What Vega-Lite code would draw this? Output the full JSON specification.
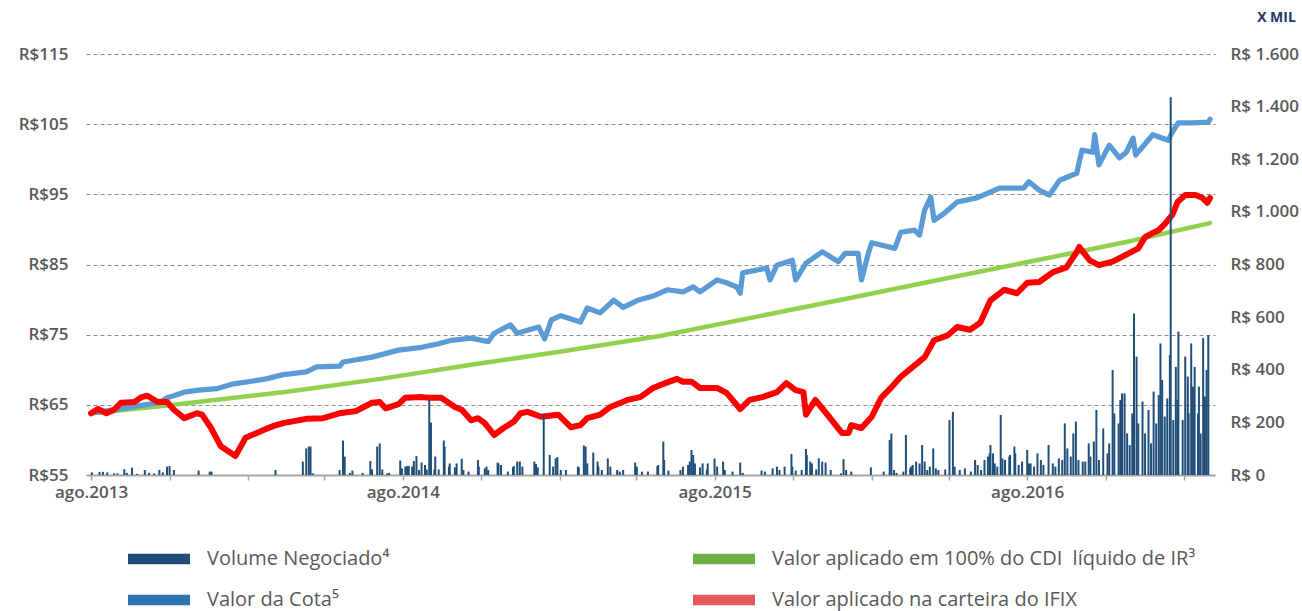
{
  "$schema": "https://vega.github.io/schema/vega-lite/v6.json",
  "width": 1129,
  "height": 421,
  "autosize": {"type": "none"},
  "padding": {"left": 86, "top": 54, "right": 87, "bottom": 136},
  "background": "white",
  "config": {"view": {"stroke": null}, "font": "Open Sans"},
  "datasets": {
    "linhas": [
      {"data": "2013-08-01", "serie": "cdi", "valor": 63.8},
      {"data": "2013-10-29", "serie": "cdi", "valor": 64.9},
      {"data": "2014-03-14", "serie": "cdi", "valor": 66.8},
      {"data": "2014-07-06", "serie": "cdi", "valor": 68.7},
      {"data": "2014-10-20", "serie": "cdi", "valor": 70.7},
      {"data": "2015-02-08", "serie": "cdi", "valor": 72.7},
      {"data": "2015-05-29", "serie": "cdi", "valor": 74.8},
      {"data": "2015-09-17", "serie": "cdi", "valor": 77.5},
      {"data": "2016-01-05", "serie": "cdi", "valor": 80.2},
      {"data": "2016-04-23", "serie": "cdi", "valor": 82.9},
      {"data": "2016-08-12", "serie": "cdi", "valor": 85.6},
      {"data": "2016-11-25", "serie": "cdi", "valor": 88.2},
      {"data": "2017-03-03", "serie": "cdi", "valor": 90.9},

      {"data": "2013-08-01", "serie": "cota", "valor": 63.8},
      {"data": "2013-08-17", "serie": "cota", "valor": 64.1},
      {"data": "2013-09-09", "serie": "cota", "valor": 64.5},
      {"data": "2013-10-03", "serie": "cota", "valor": 65.0},
      {"data": "2013-10-20", "serie": "cota", "valor": 65.3},
      {"data": "2013-10-29", "serie": "cota", "valor": 66.0},
      {"data": "2013-11-06", "serie": "cota", "valor": 66.3},
      {"data": "2013-11-18", "serie": "cota", "valor": 66.8},
      {"data": "2013-12-05", "serie": "cota", "valor": 67.1},
      {"data": "2013-12-26", "serie": "cota", "valor": 67.3},
      {"data": "2014-01-15", "serie": "cota", "valor": 68.0},
      {"data": "2014-02-07", "serie": "cota", "valor": 68.4},
      {"data": "2014-02-22", "serie": "cota", "valor": 68.7},
      {"data": "2014-03-14", "serie": "cota", "valor": 69.3},
      {"data": "2014-03-22", "serie": "cota", "valor": 69.4},
      {"data": "2014-04-10", "serie": "cota", "valor": 69.7},
      {"data": "2014-04-22", "serie": "cota", "valor": 70.4},
      {"data": "2014-05-19", "serie": "cota", "valor": 70.5},
      {"data": "2014-05-23", "serie": "cota", "valor": 71.1},
      {"data": "2014-06-26", "serie": "cota", "valor": 71.8},
      {"data": "2014-07-27", "serie": "cota", "valor": 72.8},
      {"data": "2014-08-23", "serie": "cota", "valor": 73.2},
      {"data": "2014-09-12", "serie": "cota", "valor": 73.7},
      {"data": "2014-09-27", "serie": "cota", "valor": 74.2},
      {"data": "2014-10-20", "serie": "cota", "valor": 74.5},
      {"data": "2014-11-09", "serie": "cota", "valor": 74.0},
      {"data": "2014-11-16", "serie": "cota", "valor": 75.2},
      {"data": "2014-12-05", "serie": "cota", "valor": 76.4},
      {"data": "2014-12-13", "serie": "cota", "valor": 75.2},
      {"data": "2015-01-07", "serie": "cota", "valor": 76.1},
      {"data": "2015-01-14", "serie": "cota", "valor": 74.4},
      {"data": "2015-01-22", "serie": "cota", "valor": 77.1},
      {"data": "2015-02-02", "serie": "cota", "valor": 77.7},
      {"data": "2015-02-25", "serie": "cota", "valor": 76.8},
      {"data": "2015-03-05", "serie": "cota", "valor": 78.8},
      {"data": "2015-03-20", "serie": "cota", "valor": 78.1},
      {"data": "2015-04-05", "serie": "cota", "valor": 79.9},
      {"data": "2015-04-16", "serie": "cota", "valor": 78.9},
      {"data": "2015-05-03", "serie": "cota", "valor": 79.9},
      {"data": "2015-05-21", "serie": "cota", "valor": 80.5},
      {"data": "2015-06-07", "serie": "cota", "valor": 81.4},
      {"data": "2015-06-25", "serie": "cota", "valor": 81.1},
      {"data": "2015-07-07", "serie": "cota", "valor": 81.8},
      {"data": "2015-07-15", "serie": "cota", "valor": 81.1},
      {"data": "2015-08-04", "serie": "cota", "valor": 82.8},
      {"data": "2015-08-15", "serie": "cota", "valor": 82.4},
      {"data": "2015-08-27", "serie": "cota", "valor": 81.8},
      {"data": "2015-08-31", "serie": "cota", "valor": 80.9},
      {"data": "2015-09-03", "serie": "cota", "valor": 83.8},
      {"data": "2015-10-01", "serie": "cota", "valor": 84.5},
      {"data": "2015-10-05", "serie": "cota", "valor": 82.8},
      {"data": "2015-10-13", "serie": "cota", "valor": 84.9},
      {"data": "2015-10-31", "serie": "cota", "valor": 85.6},
      {"data": "2015-11-04", "serie": "cota", "valor": 82.8},
      {"data": "2015-11-16", "serie": "cota", "valor": 85.2},
      {"data": "2015-12-05", "serie": "cota", "valor": 86.8},
      {"data": "2015-12-24", "serie": "cota", "valor": 85.4},
      {"data": "2016-01-01", "serie": "cota", "valor": 86.6},
      {"data": "2016-01-16", "serie": "cota", "valor": 86.6},
      {"data": "2016-01-20", "serie": "cota", "valor": 82.8},
      {"data": "2016-01-28", "serie": "cota", "valor": 86.6},
      {"data": "2016-02-01", "serie": "cota", "valor": 88.1},
      {"data": "2016-02-28", "serie": "cota", "valor": 87.3},
      {"data": "2016-03-06", "serie": "cota", "valor": 89.6},
      {"data": "2016-03-22", "serie": "cota", "valor": 89.9},
      {"data": "2016-03-28", "serie": "cota", "valor": 89.2},
      {"data": "2016-04-03", "serie": "cota", "valor": 92.8},
      {"data": "2016-04-10", "serie": "cota", "valor": 94.6},
      {"data": "2016-04-14", "serie": "cota", "valor": 91.3},
      {"data": "2016-04-26", "serie": "cota", "valor": 92.3},
      {"data": "2016-05-11", "serie": "cota", "valor": 93.9},
      {"data": "2016-06-03", "serie": "cota", "valor": 94.5},
      {"data": "2016-06-30", "serie": "cota", "valor": 95.9},
      {"data": "2016-07-28", "serie": "cota", "valor": 95.9},
      {"data": "2016-08-03", "serie": "cota", "valor": 96.8},
      {"data": "2016-08-15", "serie": "cota", "valor": 95.6},
      {"data": "2016-08-27", "serie": "cota", "valor": 94.9},
      {"data": "2016-09-08", "serie": "cota", "valor": 97.0},
      {"data": "2016-09-28", "serie": "cota", "valor": 98.0},
      {"data": "2016-10-04", "serie": "cota", "valor": 101.3},
      {"data": "2016-10-17", "serie": "cota", "valor": 101.0},
      {"data": "2016-10-19", "serie": "cota", "valor": 103.5},
      {"data": "2016-10-24", "serie": "cota", "valor": 99.2},
      {"data": "2016-11-05", "serie": "cota", "valor": 102.0},
      {"data": "2016-11-17", "serie": "cota", "valor": 100.2},
      {"data": "2016-11-25", "serie": "cota", "valor": 101.0},
      {"data": "2016-12-03", "serie": "cota", "valor": 103.0},
      {"data": "2016-12-06", "serie": "cota", "valor": 100.6},
      {"data": "2016-12-26", "serie": "cota", "valor": 103.5},
      {"data": "2017-01-13", "serie": "cota", "valor": 102.7},
      {"data": "2017-01-18", "serie": "cota", "valor": 103.9},
      {"data": "2017-01-25", "serie": "cota", "valor": 105.2},
      {"data": "2017-02-10", "serie": "cota", "valor": 105.2},
      {"data": "2017-03-01", "serie": "cota", "valor": 105.3},
      {"data": "2017-03-03", "serie": "cota", "valor": 105.7},

      {"data": "2013-08-01", "serie": "ifix", "valor": 63.8},
      {"data": "2013-08-09", "serie": "ifix", "valor": 64.4},
      {"data": "2013-08-19", "serie": "ifix", "valor": 63.8},
      {"data": "2013-08-28", "serie": "ifix", "valor": 64.3},
      {"data": "2013-09-05", "serie": "ifix", "valor": 65.3},
      {"data": "2013-09-21", "serie": "ifix", "valor": 65.4},
      {"data": "2013-09-29", "serie": "ifix", "valor": 66.1},
      {"data": "2013-10-06", "serie": "ifix", "valor": 66.3},
      {"data": "2013-10-18", "serie": "ifix", "valor": 65.4},
      {"data": "2013-10-29", "serie": "ifix", "valor": 65.4},
      {"data": "2013-11-06", "serie": "ifix", "valor": 64.3},
      {"data": "2013-11-18", "serie": "ifix", "valor": 63.1},
      {"data": "2013-12-03", "serie": "ifix", "valor": 63.8},
      {"data": "2013-12-09", "serie": "ifix", "valor": 63.6},
      {"data": "2013-12-19", "serie": "ifix", "valor": 61.8},
      {"data": "2013-12-31", "serie": "ifix", "valor": 59.1},
      {"data": "2014-01-17", "serie": "ifix", "valor": 57.7},
      {"data": "2014-01-29", "serie": "ifix", "valor": 60.3},
      {"data": "2014-02-19", "serie": "ifix", "valor": 61.4},
      {"data": "2014-03-03", "serie": "ifix", "valor": 62.0},
      {"data": "2014-03-14", "serie": "ifix", "valor": 62.4},
      {"data": "2014-04-10", "serie": "ifix", "valor": 63.0},
      {"data": "2014-04-30", "serie": "ifix", "valor": 63.1},
      {"data": "2014-05-19", "serie": "ifix", "valor": 63.8},
      {"data": "2014-06-07", "serie": "ifix", "valor": 64.1},
      {"data": "2014-06-26", "serie": "ifix", "valor": 65.3},
      {"data": "2014-07-05", "serie": "ifix", "valor": 65.4},
      {"data": "2014-07-12", "serie": "ifix", "valor": 64.5},
      {"data": "2014-07-27", "serie": "ifix", "valor": 65.1},
      {"data": "2014-08-04", "serie": "ifix", "valor": 66.0},
      {"data": "2014-08-23", "serie": "ifix", "valor": 66.1},
      {"data": "2014-09-01", "serie": "ifix", "valor": 66.0},
      {"data": "2014-09-15", "serie": "ifix", "valor": 66.0},
      {"data": "2014-10-01", "serie": "ifix", "valor": 64.7},
      {"data": "2014-10-09", "serie": "ifix", "valor": 64.3},
      {"data": "2014-10-20", "serie": "ifix", "valor": 62.8},
      {"data": "2014-10-28", "serie": "ifix", "valor": 63.1},
      {"data": "2014-11-05", "serie": "ifix", "valor": 62.4},
      {"data": "2014-11-16", "serie": "ifix", "valor": 60.7},
      {"data": "2014-11-27", "serie": "ifix", "valor": 61.7},
      {"data": "2014-12-09", "serie": "ifix", "valor": 62.6},
      {"data": "2014-12-17", "serie": "ifix", "valor": 63.8},
      {"data": "2014-12-25", "serie": "ifix", "valor": 64.0},
      {"data": "2015-01-10", "serie": "ifix", "valor": 63.3},
      {"data": "2015-01-30", "serie": "ifix", "valor": 63.6},
      {"data": "2015-02-14", "serie": "ifix", "valor": 61.8},
      {"data": "2015-02-25", "serie": "ifix", "valor": 62.1},
      {"data": "2015-03-05", "serie": "ifix", "valor": 63.1},
      {"data": "2015-03-20", "serie": "ifix", "valor": 63.6},
      {"data": "2015-04-01", "serie": "ifix", "valor": 64.7},
      {"data": "2015-04-21", "serie": "ifix", "valor": 65.7},
      {"data": "2015-05-06", "serie": "ifix", "valor": 66.1},
      {"data": "2015-05-21", "serie": "ifix", "valor": 67.4},
      {"data": "2015-05-29", "serie": "ifix", "valor": 67.8},
      {"data": "2015-06-18", "serie": "ifix", "valor": 68.7},
      {"data": "2015-06-25", "serie": "ifix", "valor": 68.3},
      {"data": "2015-07-05", "serie": "ifix", "valor": 68.3},
      {"data": "2015-07-15", "serie": "ifix", "valor": 67.4},
      {"data": "2015-08-04", "serie": "ifix", "valor": 67.4},
      {"data": "2015-08-15", "serie": "ifix", "valor": 66.7},
      {"data": "2015-08-31", "serie": "ifix", "valor": 64.4},
      {"data": "2015-09-11", "serie": "ifix", "valor": 65.7},
      {"data": "2015-09-26", "serie": "ifix", "valor": 66.1},
      {"data": "2015-10-13", "serie": "ifix", "valor": 66.8},
      {"data": "2015-10-24", "serie": "ifix", "valor": 68.1},
      {"data": "2015-11-04", "serie": "ifix", "valor": 67.1},
      {"data": "2015-11-13", "serie": "ifix", "valor": 66.8},
      {"data": "2015-11-16", "serie": "ifix", "valor": 63.6},
      {"data": "2015-11-27", "serie": "ifix", "valor": 65.7},
      {"data": "2015-12-13", "serie": "ifix", "valor": 63.3},
      {"data": "2015-12-28", "serie": "ifix", "valor": 61.0},
      {"data": "2016-01-05", "serie": "ifix", "valor": 61.0},
      {"data": "2016-01-08", "serie": "ifix", "valor": 62.1},
      {"data": "2016-01-20", "serie": "ifix", "valor": 61.7},
      {"data": "2016-02-01", "serie": "ifix", "valor": 63.3},
      {"data": "2016-02-12", "serie": "ifix", "valor": 66.0},
      {"data": "2016-02-24", "serie": "ifix", "valor": 67.5},
      {"data": "2016-03-06", "serie": "ifix", "valor": 69.0},
      {"data": "2016-03-18", "serie": "ifix", "valor": 70.2},
      {"data": "2016-04-03", "serie": "ifix", "valor": 71.8},
      {"data": "2016-04-14", "serie": "ifix", "valor": 74.2},
      {"data": "2016-04-30", "serie": "ifix", "valor": 74.9},
      {"data": "2016-05-11", "serie": "ifix", "valor": 76.1},
      {"data": "2016-05-26", "serie": "ifix", "valor": 75.7},
      {"data": "2016-06-07", "serie": "ifix", "valor": 76.7},
      {"data": "2016-06-19", "serie": "ifix", "valor": 79.9},
      {"data": "2016-07-05", "serie": "ifix", "valor": 81.4},
      {"data": "2016-07-20", "serie": "ifix", "valor": 80.9},
      {"data": "2016-08-01", "serie": "ifix", "valor": 82.4},
      {"data": "2016-08-15", "serie": "ifix", "valor": 82.5},
      {"data": "2016-08-31", "serie": "ifix", "valor": 83.9},
      {"data": "2016-09-16", "serie": "ifix", "valor": 84.6},
      {"data": "2016-09-28", "serie": "ifix", "valor": 86.8},
      {"data": "2016-10-01", "serie": "ifix", "valor": 87.5},
      {"data": "2016-10-13", "serie": "ifix", "valor": 85.6},
      {"data": "2016-10-24", "serie": "ifix", "valor": 84.9},
      {"data": "2016-11-09", "serie": "ifix", "valor": 85.4},
      {"data": "2016-11-25", "serie": "ifix", "valor": 86.4},
      {"data": "2016-12-09", "serie": "ifix", "valor": 87.3},
      {"data": "2016-12-17", "serie": "ifix", "valor": 88.9},
      {"data": "2016-12-26", "serie": "ifix", "valor": 89.5},
      {"data": "2017-01-02", "serie": "ifix", "valor": 89.9},
      {"data": "2017-01-10", "serie": "ifix", "valor": 90.9},
      {"data": "2017-01-18", "serie": "ifix", "valor": 92.1},
      {"data": "2017-01-24", "serie": "ifix", "valor": 93.9},
      {"data": "2017-02-02", "serie": "ifix", "valor": 94.9},
      {"data": "2017-02-14", "serie": "ifix", "valor": 94.9},
      {"data": "2017-02-22", "serie": "ifix", "valor": 94.5},
      {"data": "2017-02-28", "serie": "ifix", "valor": 93.8},
      {"data": "2017-03-03", "serie": "ifix", "valor": 94.5}
    ],
    "volume": [
      {"data": "2013-08-02", "volume": 10}, {"data": "2013-08-11", "volume": 12}, {"data": "2013-08-15", "volume": 12},
      {"data": "2013-08-20", "volume": 10}, {"data": "2013-08-28", "volume": 6}, {"data": "2013-09-01", "volume": 6},
      {"data": "2013-09-09", "volume": 22}, {"data": "2013-09-12", "volume": 8}, {"data": "2013-09-18", "volume": 28},
      {"data": "2013-09-24", "volume": 4}, {"data": "2013-10-03", "volume": 19}, {"data": "2013-10-08", "volume": 8},
      {"data": "2013-10-14", "volume": 6}, {"data": "2013-10-20", "volume": 19}, {"data": "2013-10-24", "volume": 10},
      {"data": "2013-10-29", "volume": 32}, {"data": "2013-11-01", "volume": 34}, {"data": "2013-11-06", "volume": 19},
      {"data": "2013-12-05", "volume": 17}, {"data": "2013-12-18", "volume": 13}, {"data": "2013-12-20", "volume": 13},
      {"data": "2014-03-05", "volume": 19},
      {"data": "2014-04-06", "volume": 51}, {"data": "2014-04-10", "volume": 101}, {"data": "2014-04-13", "volume": 108},
      {"data": "2014-04-15", "volume": 108}, {"data": "2014-04-18", "volume": 6}, {"data": "2014-05-19", "volume": 19},
      {"data": "2014-05-23", "volume": 131}, {"data": "2014-05-25", "volume": 70}, {"data": "2014-05-31", "volume": 8},
      {"data": "2014-06-03", "volume": 17}, {"data": "2014-06-15", "volume": 8}, {"data": "2014-06-24", "volume": 53},
      {"data": "2014-06-26", "volume": 21}, {"data": "2014-07-02", "volume": 108}, {"data": "2014-07-05", "volume": 120},
      {"data": "2014-07-08", "volume": 21}, {"data": "2014-07-14", "volume": 6}, {"data": "2014-07-16", "volume": 8},
      {"data": "2014-07-29", "volume": 55}, {"data": "2014-07-31", "volume": 25}, {"data": "2014-08-04", "volume": 32},
      {"data": "2014-08-06", "volume": 34}, {"data": "2014-08-08", "volume": 34}, {"data": "2014-08-12", "volume": 32},
      {"data": "2014-08-14", "volume": 53}, {"data": "2014-08-17", "volume": 72}, {"data": "2014-08-20", "volume": 19},
      {"data": "2014-08-23", "volume": 47}, {"data": "2014-08-27", "volume": 38}, {"data": "2014-08-29", "volume": 21},
      {"data": "2014-09-01", "volume": 285}, {"data": "2014-09-03", "volume": 199}, {"data": "2014-09-07", "volume": 21},
      {"data": "2014-09-08", "volume": 70}, {"data": "2014-09-12", "volume": 21}, {"data": "2014-09-18", "volume": 131},
      {"data": "2014-09-19", "volume": 108}, {"data": "2014-09-24", "volume": 32}, {"data": "2014-09-25", "volume": 44},
      {"data": "2014-10-01", "volume": 29}, {"data": "2014-10-03", "volume": 44}, {"data": "2014-10-09", "volume": 62},
      {"data": "2014-10-11", "volume": 19}, {"data": "2014-10-17", "volume": 13}, {"data": "2014-10-28", "volume": 57},
      {"data": "2014-10-29", "volume": 32}, {"data": "2014-11-05", "volume": 25}, {"data": "2014-11-07", "volume": 32},
      {"data": "2014-11-09", "volume": 19}, {"data": "2014-11-20", "volume": 47}, {"data": "2014-11-21", "volume": 44},
      {"data": "2014-11-24", "volume": 38}, {"data": "2014-12-02", "volume": 13}, {"data": "2014-12-08", "volume": 29},
      {"data": "2014-12-09", "volume": 34}, {"data": "2014-12-13", "volume": 51}, {"data": "2014-12-16", "volume": 51},
      {"data": "2014-12-19", "volume": 32}, {"data": "2015-01-02", "volume": 51}, {"data": "2015-01-04", "volume": 42},
      {"data": "2015-01-06", "volume": 29}, {"data": "2015-01-13", "volume": 232}, {"data": "2015-01-20", "volume": 76},
      {"data": "2015-01-24", "volume": 32}, {"data": "2015-01-27", "volume": 63}, {"data": "2015-01-29", "volume": 68},
      {"data": "2015-02-02", "volume": 19}, {"data": "2015-02-08", "volume": 19}, {"data": "2015-02-22", "volume": 32},
      {"data": "2015-02-23", "volume": 29}, {"data": "2015-03-01", "volume": 112}, {"data": "2015-03-03", "volume": 108},
      {"data": "2015-03-05", "volume": 44}, {"data": "2015-03-12", "volume": 85}, {"data": "2015-03-17", "volume": 51},
      {"data": "2015-03-18", "volume": 32}, {"data": "2015-03-22", "volume": 19}, {"data": "2015-03-29", "volume": 63},
      {"data": "2015-04-01", "volume": 32}, {"data": "2015-04-09", "volume": 19}, {"data": "2015-04-12", "volume": 13},
      {"data": "2015-04-16", "volume": 19}, {"data": "2015-04-30", "volume": 47}, {"data": "2015-05-02", "volume": 32},
      {"data": "2015-05-08", "volume": 13}, {"data": "2015-05-15", "volume": 13}, {"data": "2015-05-26", "volume": 34},
      {"data": "2015-05-27", "volume": 38}, {"data": "2015-06-02", "volume": 127}, {"data": "2015-06-03", "volume": 57},
      {"data": "2015-06-08", "volume": 17}, {"data": "2015-06-22", "volume": 19}, {"data": "2015-06-25", "volume": 32},
      {"data": "2015-07-01", "volume": 38}, {"data": "2015-07-03", "volume": 51}, {"data": "2015-07-05", "volume": 95},
      {"data": "2015-07-07", "volume": 76}, {"data": "2015-07-09", "volume": 44}, {"data": "2015-07-15", "volume": 29},
      {"data": "2015-07-18", "volume": 44}, {"data": "2015-07-23", "volume": 21}, {"data": "2015-07-24", "volume": 44},
      {"data": "2015-08-01", "volume": 63}, {"data": "2015-08-04", "volume": 32}, {"data": "2015-08-11", "volume": 51},
      {"data": "2015-08-13", "volume": 19}, {"data": "2015-08-22", "volume": 13}, {"data": "2015-08-31", "volume": 47},
      {"data": "2015-09-03", "volume": 8}, {"data": "2015-09-25", "volume": 17}, {"data": "2015-09-29", "volume": 13},
      {"data": "2015-10-08", "volume": 25}, {"data": "2015-10-13", "volume": 32}, {"data": "2015-10-16", "volume": 19},
      {"data": "2015-10-22", "volume": 32}, {"data": "2015-10-30", "volume": 80}, {"data": "2015-10-31", "volume": 32},
      {"data": "2015-11-04", "volume": 17}, {"data": "2015-11-11", "volume": 19}, {"data": "2015-11-16", "volume": 99},
      {"data": "2015-11-17", "volume": 76}, {"data": "2015-11-21", "volume": 51}, {"data": "2015-11-23", "volume": 44},
      {"data": "2015-11-28", "volume": 21}, {"data": "2015-12-01", "volume": 63}, {"data": "2015-12-05", "volume": 51},
      {"data": "2015-12-09", "volume": 47}, {"data": "2015-12-15", "volume": 19}, {"data": "2015-12-27", "volume": 6},
      {"data": "2015-12-30", "volume": 60}, {"data": "2016-01-02", "volume": 19}, {"data": "2016-01-08", "volume": 13},
      {"data": "2016-01-31", "volume": 29}, {"data": "2016-02-15", "volume": 13}, {"data": "2016-02-22", "volume": 133},
      {"data": "2016-02-24", "volume": 158}, {"data": "2016-02-27", "volume": 19}, {"data": "2016-03-01", "volume": 8},
      {"data": "2016-03-09", "volume": 13}, {"data": "2016-03-12", "volume": 152}, {"data": "2016-03-17", "volume": 25},
      {"data": "2016-03-18", "volume": 32}, {"data": "2016-03-20", "volume": 38}, {"data": "2016-03-24", "volume": 51},
      {"data": "2016-03-28", "volume": 44}, {"data": "2016-03-31", "volume": 114}, {"data": "2016-04-03", "volume": 51},
      {"data": "2016-04-06", "volume": 19}, {"data": "2016-04-09", "volume": 32}, {"data": "2016-04-13", "volume": 101},
      {"data": "2016-04-16", "volume": 25}, {"data": "2016-04-19", "volume": 19}, {"data": "2016-04-27", "volume": 21},
      {"data": "2016-05-02", "volume": 209}, {"data": "2016-05-06", "volume": 240}, {"data": "2016-05-08", "volume": 32},
      {"data": "2016-05-14", "volume": 19}, {"data": "2016-05-20", "volume": 25}, {"data": "2016-05-27", "volume": 13},
      {"data": "2016-06-01", "volume": 57}, {"data": "2016-06-04", "volume": 38}, {"data": "2016-06-08", "volume": 19},
      {"data": "2016-06-12", "volume": 57}, {"data": "2016-06-16", "volume": 70}, {"data": "2016-06-18", "volume": 82},
      {"data": "2016-06-19", "volume": 114}, {"data": "2016-06-22", "volume": 82}, {"data": "2016-06-24", "volume": 44},
      {"data": "2016-06-27", "volume": 32}, {"data": "2016-07-01", "volume": 228}, {"data": "2016-07-03", "volume": 63},
      {"data": "2016-07-06", "volume": 57}, {"data": "2016-07-11", "volume": 70}, {"data": "2016-07-12", "volume": 76},
      {"data": "2016-07-17", "volume": 108}, {"data": "2016-07-18", "volume": 82}, {"data": "2016-07-22", "volume": 38},
      {"data": "2016-07-26", "volume": 51}, {"data": "2016-08-01", "volume": 95}, {"data": "2016-08-03", "volume": 44},
      {"data": "2016-08-05", "volume": 44}, {"data": "2016-08-09", "volume": 32}, {"data": "2016-08-13", "volume": 82},
      {"data": "2016-08-17", "volume": 57}, {"data": "2016-08-20", "volume": 38}, {"data": "2016-08-26", "volume": 114},
      {"data": "2016-08-31", "volume": 44}, {"data": "2016-09-03", "volume": 32}, {"data": "2016-09-07", "volume": 63},
      {"data": "2016-09-11", "volume": 57}, {"data": "2016-09-14", "volume": 196}, {"data": "2016-09-17", "volume": 101},
      {"data": "2016-09-21", "volume": 70}, {"data": "2016-09-24", "volume": 158}, {"data": "2016-09-27", "volume": 203},
      {"data": "2016-09-30", "volume": 57}, {"data": "2016-10-05", "volume": 51}, {"data": "2016-10-08", "volume": 51},
      {"data": "2016-10-12", "volume": 120}, {"data": "2016-10-14", "volume": 70}, {"data": "2016-10-18", "volume": 127},
      {"data": "2016-10-21", "volume": 247}, {"data": "2016-10-24", "volume": 57}, {"data": "2016-10-29", "volume": 177},
      {"data": "2016-11-03", "volume": 82}, {"data": "2016-11-05", "volume": 120}, {"data": "2016-11-09", "volume": 399},
      {"data": "2016-11-11", "volume": 234}, {"data": "2016-11-16", "volume": 196}, {"data": "2016-11-18", "volume": 285},
      {"data": "2016-11-20", "volume": 310}, {"data": "2016-11-23", "volume": 310}, {"data": "2016-11-26", "volume": 158},
      {"data": "2016-11-29", "volume": 114}, {"data": "2016-12-02", "volume": 234}, {"data": "2016-12-04", "volume": 614},
      {"data": "2016-12-07", "volume": 450}, {"data": "2016-12-09", "volume": 196}, {"data": "2016-12-14", "volume": 279},
      {"data": "2016-12-17", "volume": 158}, {"data": "2016-12-21", "volume": 247}, {"data": "2016-12-24", "volume": 120},
      {"data": "2016-12-27", "volume": 317}, {"data": "2016-12-30", "volume": 196}, {"data": "2017-01-02", "volume": 304},
      {"data": "2017-01-04", "volume": 500}, {"data": "2017-01-06", "volume": 361}, {"data": "2017-01-09", "volume": 222},
      {"data": "2017-01-12", "volume": 291}, {"data": "2017-01-15", "volume": 456}, {"data": "2017-01-16", "volume": 1436},
      {"data": "2017-01-19", "volume": 209}, {"data": "2017-01-22", "volume": 411}, {"data": "2017-01-24", "volume": 285},
      {"data": "2017-01-25", "volume": 545}, {"data": "2017-01-30", "volume": 209}, {"data": "2017-02-02", "volume": 450},
      {"data": "2017-02-05", "volume": 374}, {"data": "2017-02-06", "volume": 234}, {"data": "2017-02-09", "volume": 500},
      {"data": "2017-02-11", "volume": 336}, {"data": "2017-02-13", "volume": 411}, {"data": "2017-02-17", "volume": 234},
      {"data": "2017-02-18", "volume": 336}, {"data": "2017-02-20", "volume": 158}, {"data": "2017-02-23", "volume": 520},
      {"data": "2017-02-25", "volume": 298}, {"data": "2017-02-27", "volume": 399}, {"data": "2017-03-01", "volume": 532}
    ]
  },
  "encoding": {
    "x": {
      "field": "data",
      "type": "temporal",
      "scale": {
        "type": "utc",
        "domain": [
          {"year": 2013, "month": 8, "date": 1, "utc": true},
          {"year": 2017, "month": 3, "date": 3, "utc": true}
        ]
      },
      "axis": {
        "title": null,
        "grid": false,
        "values": [
          {"year": 2013, "month": 8, "date": 1, "utc": true},
          {"year": 2013, "month": 11, "date": 1, "utc": true},
          {"year": 2014, "month": 2, "date": 1, "utc": true},
          {"year": 2014, "month": 5, "date": 1, "utc": true},
          {"year": 2014, "month": 8, "date": 1, "utc": true},
          {"year": 2014, "month": 11, "date": 1, "utc": true},
          {"year": 2015, "month": 2, "date": 1, "utc": true},
          {"year": 2015, "month": 5, "date": 1, "utc": true},
          {"year": 2015, "month": 8, "date": 1, "utc": true},
          {"year": 2015, "month": 11, "date": 1, "utc": true},
          {"year": 2016, "month": 2, "date": 1, "utc": true},
          {"year": 2016, "month": 5, "date": 1, "utc": true},
          {"year": 2016, "month": 8, "date": 1, "utc": true},
          {"year": 2016, "month": 11, "date": 1, "utc": true},
          {"year": 2017, "month": 2, "date": 1, "utc": true}
        ],
        "labelExpr": "utcmonth(datum.value) == 7 ? 'ago.' + utcyear(datum.value) : ''",
        "labelFlush": false,
        "labelOverlap": false,
        "labelFont": "Open Sans",
        "labelFontWeight": 600,
        "labelFontSize": 17,
        "labelColor": "#595959",
        "labelPadding": 4,
        "domainColor": "#a6a6a6",
        "domainWidth": 2,
        "tickColor": "#a6a6a6",
        "tickWidth": 1.5,
        "tickSize": 5
      }
    }
  },
  "layer": [
    {
      "data": {"name": "linhas"},
      "mark": {"type": "line", "strokeJoin": "round", "strokeCap": "round", "interpolate": "linear"},
      "encoding": {
        "y": {
          "field": "valor",
          "type": "quantitative",
          "scale": {"domain": [55, 115], "nice": false, "zero": false},
          "axis": {
            "orient": "left",
            "title": null,
            "values": [55, 65, 75, 85, 95, 105, 115],
            "labelExpr": "'R$' + datum.value",
            "grid": true,
            "gridDash": [4, 3],
            "gridColor": "#8c8c8c",
            "gridWidth": 1,
            "domain": false,
            "ticks": false,
            "labelPadding": 18,
            "labelFont": "Open Sans",
            "labelFontWeight": 600,
            "labelFontSize": 17,
            "labelColor": "#595959"
          }
        },
        "stroke": {
          "field": "serie",
          "type": "nominal",
          "scale": {"domain": ["cdi", "cota", "ifix"], "range": ["#92D050", "#5B9BD5", "#FF0000"]},
          "legend": null
        },
        "strokeWidth": {
          "field": "serie",
          "type": "nominal",
          "scale": {"domain": ["cdi", "cota", "ifix"], "range": [4.5, 6, 5]},
          "legend": null
        }
      }
    },
    {
      "data": {"name": "volume"},
      "mark": {"type": "bar", "size": 2},
      "encoding": {
        "y": {
          "field": "volume",
          "type": "quantitative",
          "scale": {"domain": [0, 1600], "nice": false},
          "axis": {
            "orient": "right",
            "values": [0, 200, 400, 600, 800, 1000, 1200, 1400, 1600],
            "labelExpr": "'R$ ' + replace(format(datum.value, ','), ',', '.')",
            "grid": false,
            "domain": false,
            "ticks": false,
            "labelPadding": 15,
            "labelFont": "Open Sans",
            "labelFontWeight": 600,
            "labelFontSize": 17,
            "labelColor": "#595959",
            "title": "X MIL",
            "titleAngle": 0,
            "titleX": 61,
            "titleY": -37,
            "titleAlign": "center",
            "titleBaseline": "middle",
            "titleColor": "#1F3864",
            "titleFont": "Open Sans",
            "titleFontSize": 14,
            "titleFontWeight": "bold"
          }
        },
        "color": {
          "datum": "Volume Negociado⁴",
          "type": "nominal",
          "scale": {
            "domain": ["Volume Negociado⁴", "Valor da Cota⁵", "Valor aplicado em 100% do CDI\u00a0 líquido de IR³", "Valor aplicado na carteira do IFIX"],
            "range": ["#1F4E79", "#2E75B6", "#70AD47", "#EB5A5A"]
          },
          "legend": {
            "title": null,
            "orient": "none",
            "legendX": 42,
            "legendY": 474,
            "columns": 2,
            "gridAlign": "each",
            "padding": 0,
            "symbolType": "M-1,-0.17H1V0.17H-1Z",
            "symbolSize": 3844,
            "symbolStrokeWidth": 0,
            "symbolOpacity": 1,
            "labelFont": "Open Sans",
            "labelFontSize": 20,
            "labelColor": "#595959",
            "labelOffset": 17,
            "labelLimit": 700,
            "columnPadding": 303,
            "rowPadding": -10
          }
        }
      }
    }
  ],
  "resolve": {"scale": {"y": "independent"}}
}
